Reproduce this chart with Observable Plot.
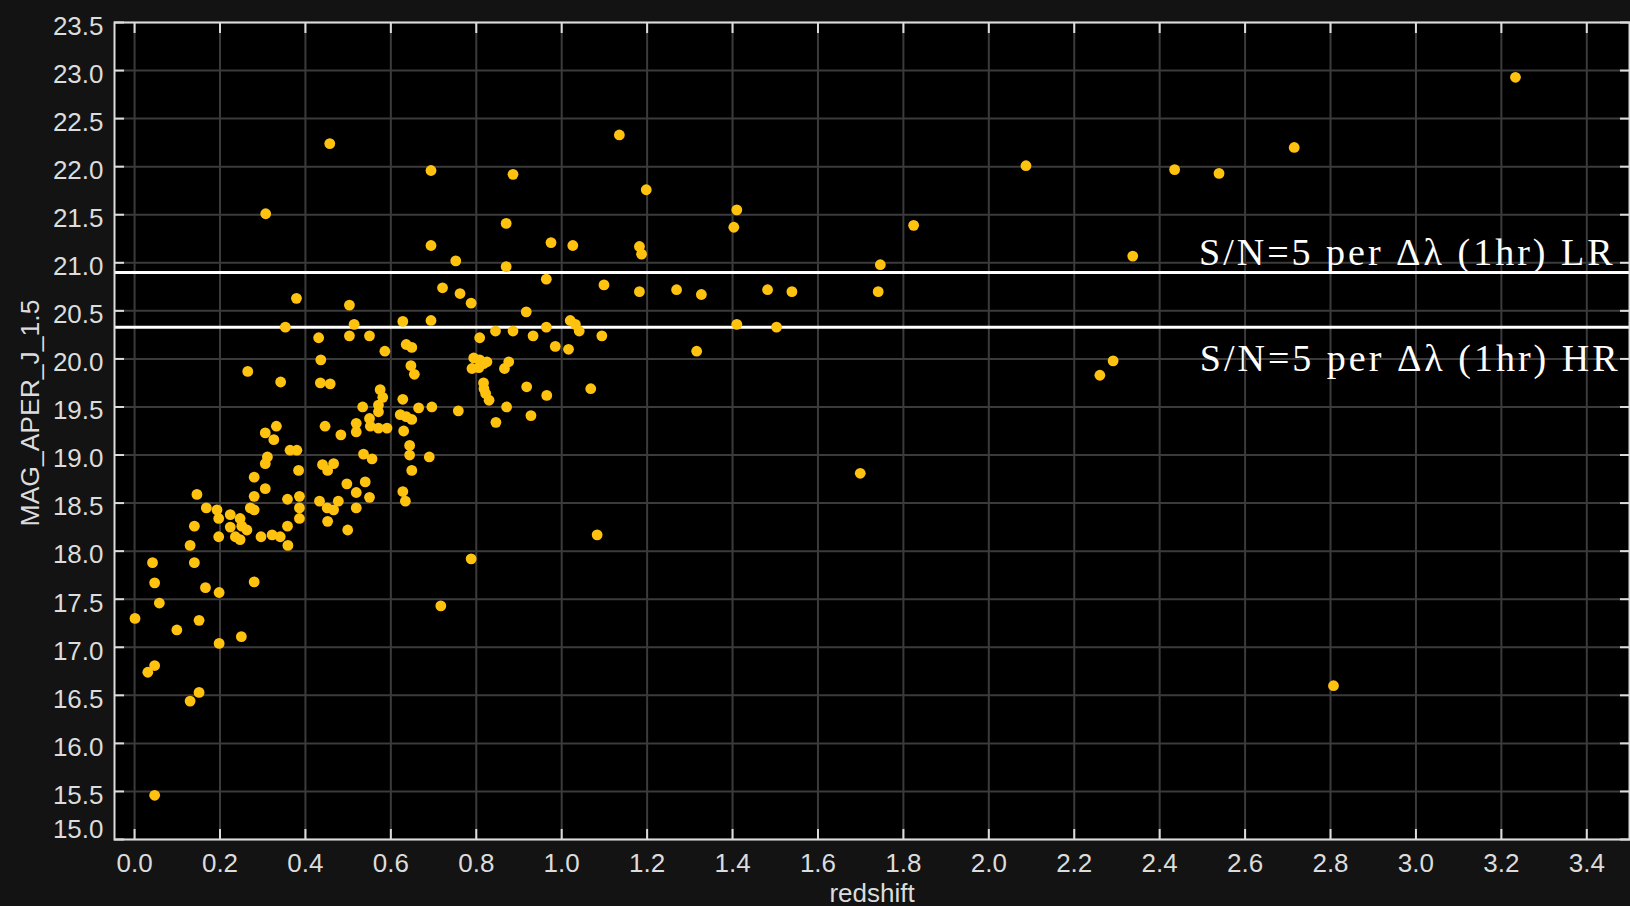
<!DOCTYPE html>
<html>
<head>
<meta charset="utf-8">
<script src="https://cdn.jsdelivr.net/npm/d3@7"></script>
<script src="https://cdn.jsdelivr.net/npm/@observablehq/plot@0.6"></script>
<style>
  html, body { margin: 0; padding: 0; background: #131313; }
  #chart { width: 1630px; height: 906px; }
</style>
</head>
<body>
<div id="chart"></div>
<script>
// Galaxy sample: spectroscopic redshift vs. J-band aperture magnitude (1.5")
const redshift = [
  0.457, 0.307, 0.694, 0.886, 0.870, 0.694, 0.975, 1.026, 0.752, 0.870,
  0.964, 0.721, 0.762, 0.788, 0.379, 0.503, 0.917, 0.353, 0.514, 0.628,
  0.694, 0.964, 1.020, 1.032, 1.041, 0.431, 0.503, 0.550, 0.845, 0.886,
  0.933, 0.808, 1.094, 0.636, 0.649, 0.586, 0.985, 1.016, 0.794, 0.808,
  0.825, 0.790, 0.806, 0.817, 0.876, 0.866, 1.068, 1.135, 1.198, 1.410,
  1.403, 1.182, 1.187, 1.099, 1.182, 1.269, 1.327, 1.482, 1.539, 1.410,
  1.503, 1.316, 1.824, 1.746, 1.741, 1.699, 1.083, 0.717, 0.788, 2.087,
  2.435, 2.539, 2.715, 3.233, 2.337, 2.260, 2.291, 2.807,
  0.575, 0.581, 0.571, 0.571, 0.534, 0.550, 0.552, 0.571, 0.591, 0.519,
  0.519, 0.446, 0.483, 0.628, 0.665, 0.696, 0.622, 0.636, 0.649, 0.630,
  0.644, 0.644, 0.690, 0.536, 0.556, 0.649, 0.497, 0.540, 0.519, 0.550,
  0.628, 0.634, 0.519, 0.499, 0.435, 0.458, 0.647, 0.655, 0.758, 0.871,
  0.928, 0.846, 0.817, 0.818, 0.822, 0.830, 0.918, 0.965, 0.436, 0.265,
  0.342,
  0.440, 0.452, 0.466, 0.433, 0.451, 0.477, 0.452, 0.466,
  0.001, 0.042, 0.047, 0.058, 0.047, 0.031, 0.047, 0.099, 0.151, 0.198,
  0.166, 0.198, 0.250, 0.280, 0.151, 0.130, 0.140, 0.130, 0.140, 0.146,
  0.168, 0.193, 0.197, 0.224, 0.247, 0.251, 0.263, 0.224, 0.236, 0.247,
  0.197, 0.271, 0.280, 0.280, 0.306, 0.280, 0.306, 0.311, 0.384, 0.364,
  0.380, 0.332, 0.306, 0.326, 0.296, 0.322, 0.341, 0.358, 0.359, 0.358,
  0.386, 0.386, 0.386
];
const magJ = [
  22.24, 21.51, 21.96, 21.92, 21.41, 21.18, 21.21, 21.18, 21.02, 20.96,
  20.83, 20.74, 20.68, 20.58, 20.63, 20.56, 20.49, 20.33, 20.36, 20.39,
  20.40, 20.33, 20.40, 20.36, 20.29, 20.22, 20.24, 20.24, 20.29, 20.29,
  20.24, 20.22, 20.24, 20.15, 20.12, 20.08, 20.13, 20.10, 20.01, 19.99,
  19.97, 19.90, 19.91, 19.95, 19.97, 19.90, 19.69, 22.33, 21.76, 21.55,
  21.37, 21.17, 21.09, 20.77, 20.70, 20.72, 20.67, 20.72, 20.70, 20.36,
  20.33, 20.08, 21.39, 20.98, 20.70, 18.81, 18.17, 17.43, 17.92, 22.01,
  21.97, 21.93, 22.20, 22.93, 21.07, 19.83, 19.98, 16.60,
  19.68, 19.60, 19.52, 19.45, 19.50, 19.38, 19.30, 19.28, 19.28, 19.33,
  19.24, 19.30, 19.21, 19.58, 19.49, 19.50, 19.42, 19.40, 19.37, 19.25,
  19.10, 19.00, 18.98, 19.01, 18.96, 18.84, 18.70, 18.72, 18.61, 18.56,
  18.62, 18.52, 18.45, 18.22, 19.75, 19.74, 19.93, 19.84, 19.46, 19.50,
  19.41, 19.34, 19.75, 19.69, 19.64, 19.57, 19.71, 19.62, 19.99, 19.87,
  19.76,
  18.90, 18.84, 18.91, 18.52, 18.45, 18.52, 18.31, 18.43,
  17.30, 17.88, 17.67, 17.46, 16.81, 16.74, 15.46, 17.18, 17.28, 17.57,
  17.62, 17.04, 17.11, 17.68, 16.53, 16.44, 17.88, 18.06, 18.26, 18.59,
  18.45, 18.43, 18.34, 18.38, 18.34, 18.26, 18.22, 18.25, 18.15, 18.12,
  18.15, 18.45, 18.43, 18.57, 18.65, 18.77, 18.91, 18.98, 18.84, 19.05,
  19.05, 19.30, 19.23, 19.16, 18.15, 18.17, 18.15, 18.26, 18.06, 18.54,
  18.57, 18.45, 18.34
];

// Axis ticks
const xTicks = [0.0, 0.2, 0.4, 0.6, 0.8, 1.0, 1.2, 1.4, 1.6, 1.8, 2.0, 2.2, 2.4, 2.6, 2.8, 3.0, 3.2, 3.4];
const yTicks = [15.0, 15.5, 16.0, 16.5, 17.0, 17.5, 18.0, 18.5, 19.0, 19.5, 20.0, 20.5, 21.0, 21.5, 22.0, 22.5, 23.0, 23.5];

// S/N = 5 limiting magnitudes (1 hr) for the low- and high-resolution modes
const limitLabels = ["S/N=5 per Δλ (1hr) LR", "S/N=5 per Δλ (1hr) HR"];
const limitMags = [20.9, 20.33];

const xLabel = "redshift";
const yLabel = "MAG_APER_J_1.5";

const points = redshift.map((z, i) => ({z, m: magJ[i]}));
const limits = limitLabels.map((label, i) => ({label, m: limitMags[i]}));

const tickColor = "#dcdcdc";
const sans = "'Liberation Sans', Arial, Helvetica, sans-serif";
const serif = "'Liberation Serif', 'Times New Roman', serif";

const chart = Plot.plot({
  width: 1630,
  height: 906,
  marginLeft: 114,
  marginRight: 1,
  marginTop: 22,
  marginBottom: 67,
  style: {background: "#131313", color: tickColor, fontFamily: sans, fontSize: "26px", overflow: "visible"},
  x: {domain: [-0.047, 3.5]},
  y: {domain: [15, 23.5]},
  marks: [
    Plot.frame({fill: "#000"}),
    Plot.gridX(xTicks, {stroke: "#3b3b3b", strokeOpacity: 1, strokeWidth: 2}),
    Plot.gridY(yTicks, {stroke: "#3b3b3b", strokeOpacity: 1, strokeWidth: 2}),
    Plot.ruleY(limitMags, {stroke: "#ffffff", strokeWidth: 3}),
    Plot.dot(points, {x: "z", y: "m", r: 5.4, fill: "#ffc20e"}),
    Plot.text(limits.slice(0, 1), {text: "label", y: "m", frameAnchor: "right", textAnchor: "end", lineAnchor: "middle",
      dx: -14, dy: -19.5, fill: "#fff", fontFamily: serif, fontSize: 38}),
    Plot.text(limits.slice(1), {text: "label", y: "m", frameAnchor: "right", textAnchor: "end", lineAnchor: "middle",
      dx: -9, dy: 32, fill: "#fff", fontFamily: serif, fontSize: 38}),
    Plot.frame({stroke: tickColor, strokeWidth: 2}),
    // inward tick marks on all four sides
    Plot.axisX(xTicks, {anchor: "bottom", tickSize: 10, dy: -10, fill: "none", label: null, stroke: tickColor, strokeWidth: 2}),
    Plot.axisX(xTicks, {anchor: "top", tickSize: 10, dy: 10, fill: "none", label: null, stroke: tickColor, strokeWidth: 2}),
    Plot.axisY(yTicks, {anchor: "left", tickSize: 10, dx: 10, fill: "none", label: null, stroke: tickColor, strokeWidth: 2}),
    Plot.axisY(yTicks, {anchor: "right", tickSize: 10, dx: -10, fill: "none", label: null, stroke: tickColor, strokeWidth: 2}),
    // tick labels
    Plot.axisX(xTicks, {anchor: "bottom", tickSize: 0, tickPadding: 14, stroke: "none", label: null,
      tickFormat: d => d.toFixed(1), fill: tickColor, fontSize: 26}),
    Plot.axisY(yTicks.filter(d => d > 15), {anchor: "left", tickSize: 0, tickPadding: 11, dy: 4, stroke: "none", label: null,
      tickFormat: d => d.toFixed(1), fill: tickColor, fontSize: 26}),
    Plot.axisY(yTicks.filter(d => d === 15), {anchor: "left", tickSize: 0, tickPadding: 11, dy: -10, stroke: "none", label: null,
      tickFormat: d => d.toFixed(1), fill: tickColor, fontSize: 26}),
    // axis titles
    Plot.text([xLabel], {frameAnchor: "bottom", textAnchor: "middle", lineAnchor: "middle", dy: 54, fill: tickColor, fontSize: 26}),
    Plot.text([yLabel], {frameAnchor: "left", textAnchor: "middle", lineAnchor: "middle", rotate: -90, dx: -84, dy: -18, fill: tickColor, fontSize: 26.5})
  ]
});

d3.select(chart).selectAll("text")
  .filter(function () { return this.textContent.startsWith("S/N"); })
  .style("letter-spacing", "3px");

document.getElementById("chart").appendChild(chart);
</script>
</body>
</html>
